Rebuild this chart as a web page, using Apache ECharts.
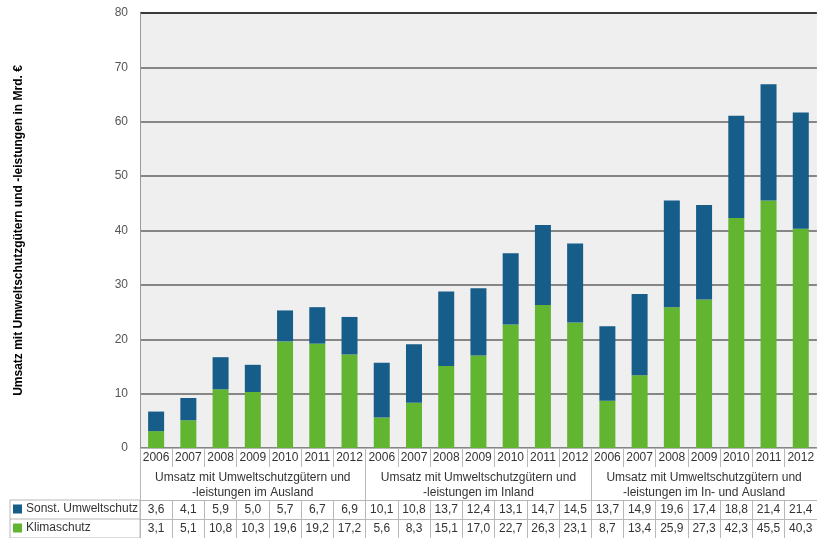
<!DOCTYPE html>
<html>
<head>
<meta charset="utf-8">
<script src="https://cdn.jsdelivr.net/npm/echarts@6/dist/echarts.min.js"></script>
<style>
  html, body { margin: 0; padding: 0; background: #fff; }
  #chart { width: 817px; height: 538px; }
</style>
</head>
<body>
<div id="chart"></div>
<script>
// values (Mrd. €)
const years = ['2006', '2007', '2008', '2009', '2010', '2011', '2012'];
const groups = [
  'Umsatz mit Umweltschutzgütern und\n-leistungen im Ausland',
  'Umsatz mit Umweltschutzgütern und\n-leistungen im Inland',
  'Umsatz mit Umweltschutzgütern und\n-leistungen im In- und Ausland'
];
const sonstUmweltschutz = [3.6, 4.1, 5.9, 5.0, 5.7, 6.7, 6.9,
  10.1, 10.8, 13.7, 12.4, 13.1, 14.7, 14.5,
  13.7, 14.9, 19.6, 17.4, 18.8, 21.4, 21.4];
const klimaschutz = [3.1, 5.1, 10.8, 10.3, 19.6, 19.2, 17.2,
  5.6, 8.3, 15.1, 17.0, 22.7, 26.3, 23.1,
  8.7, 13.4, 25.9, 27.3, 42.3, 45.5, 40.3];
const yMax = 80;
const yStep = 10;

const FONT = '"Liberation Sans", Arial, sans-serif';
const BLUE = '#175d89';
const GREEN = '#62b531';
const BORDER = '#b8b8b8';

const categories = groups.flatMap(() => years);
const fmt = v => v.toFixed(1).replace('.', ',');

// gray grid lines, darker one on top
const splitColors = [];
for (let v = 0; v <= yMax; v += yStep) splitColors.push(v === yMax ? '#3a3a3a' : '#868686');

const tableAxis = (data, offset, tickLen, showLine, extraLabel) => ({
  type: 'category',
  data: data,
  position: 'bottom',
  offset: offset,
  axisLine: { show: showLine, lineStyle: { color: BORDER } },
  axisTick: { show: true, length: tickLen, interval: 0, lineStyle: { color: BORDER } },
  axisLabel: Object.assign({ interval: 0, margin: 4, fontSize: 12, color: '#333', fontFamily: FONT }, extraLabel || {})
});

const chart = echarts.init(document.getElementById('chart'));

const option = {
  animation: false,
  grid: {
    left: 140, top: 13, width: 682, height: 435,
    show: true, backgroundColor: '#efefef', borderWidth: 0
  },
  legend: [
    {
      data: ['Sonst. Umweltschutz'], left: 13, top: 503, padding: 0,
      icon: 'rect', itemWidth: 9, itemHeight: 9, itemGap: 0, selectedMode: false,
      textStyle: { fontSize: 12, color: '#333', fontFamily: FONT, padding: [0, 0, 0, -1] }
    },
    {
      data: ['Klimaschutz'], left: 13, top: 522, padding: 0,
      icon: 'rect', itemWidth: 9, itemHeight: 9, itemGap: 0, selectedMode: false,
      textStyle: { fontSize: 12, color: '#333', fontFamily: FONT, padding: [0, 0, 0, -1] }
    }
  ],
  xAxis: [
    tableAxis(categories, 0, 19, true),
    tableAxis(groups, 19, 33, false, { margin: 3, lineHeight: 15 }),
    tableAxis(sonstUmweltschutz.map(fmt), 52, 19, true),
    tableAxis(klimaschutz.map(fmt), 71, 19, true)
  ],
  yAxis: {
    type: 'value',
    min: 0,
    max: yMax,
    interval: yStep,
    name: 'Umsatz mit Umweltschutzgütern und -leistungen in Mrd. €',
    nameLocation: 'middle',
    nameGap: 115,
    nameRotate: 90,
    nameTextStyle: { fontWeight: 'bold', fontSize: 12, color: '#000', fontFamily: FONT },
    axisLine: { show: true, lineStyle: { color: '#9a9a9a' } },
    axisTick: { show: false },
    axisLabel: { color: '#555', fontSize: 12, margin: 12, fontFamily: FONT },
    splitLine: { show: true, lineStyle: { color: splitColors, width: 2 } }
  },
  series: [
    {
      name: 'Klimaschutz', type: 'bar', stack: 'umsatz',
      xAxisIndex: 0, barWidth: 16,
      itemStyle: { color: GREEN },
      data: klimaschutz
    },
    {
      name: 'Sonst. Umweltschutz', type: 'bar', stack: 'umsatz',
      xAxisIndex: 0, barWidth: 16,
      itemStyle: { color: BLUE },
      data: sonstUmweltschutz
    }
  ],
  graphic: [
    { type: 'rect', shape: { x: 10, y: 500, width: 130, height: 38 },
      style: { fill: 'none', stroke: BORDER, lineWidth: 1 } },
    { type: 'line', shape: { x1: 10, y1: 519, x2: 140, y2: 519 },
      style: { stroke: BORDER, lineWidth: 1 } }
  ]
};

chart.setOption(option);
</script>
</body>
</html>
